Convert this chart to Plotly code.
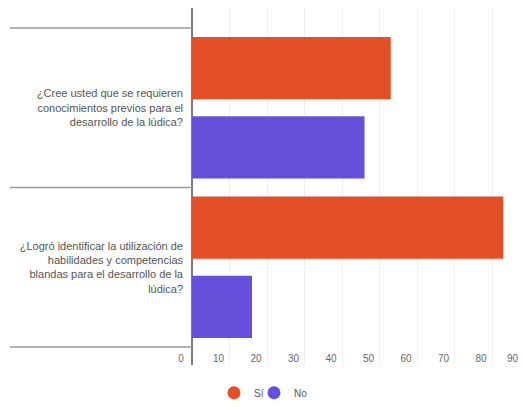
import plotly.graph_objects as go

categories = [
    "¿Cree usted que se requieren<br>conocimientos previos para el<br>desarrollo de la lúdica?",
    "¿Logró identificar la utilización de<br>habilidades y competencias<br>blandas para el desarrollo de la<br>lúdica?",
]
series_names = ["Sí", "No"]
si_values = [53, 83]
no_values = [46, 16]
x_ticks = [0, 10, 20, 30, 40, 50, 60, 70, 80, 90]

ORANGE = "#E34F26"
PURPLE = "#6650DB"
colors = [ORANGE, PURPLE]
legend_ids = ["legend", "legend2"]

fig = go.Figure()
for name, vals, col in zip(series_names, [si_values, no_values], colors):
    fig.add_trace(go.Bar(
        y=list(range(len(categories))), x=vals, orientation="h", name=name,
        marker=dict(color=col, line=dict(width=0)), showlegend=False,
    ))
for name, col, lg in zip(series_names, colors, legend_ids):
    fig.add_trace(go.Scatter(
        x=[None], y=[None], mode="markers", name=name, legend=lg,
        marker=dict(color=col, size=13, symbol="circle"),
    ))

xmax = 88.0
leg_common = dict(orientation="h", xref="container", yref="container",
                  y=0.035, xanchor="left", yanchor="middle",
                  font=dict(size=10, color="#555"), itemwidth=30,
                  bgcolor="rgba(0,0,0,0)")
fig.update_layout(
    width=522, height=407,
    margin=dict(l=192, r=0, t=8, b=42),
    plot_bgcolor="white", paper_bgcolor="white",
    font=dict(family="Liberation Sans, Arial", size=10, color="#555"),
    barmode="group", bargap=0.006, bargroupgap=0.214,
    legend=dict(x=214 / 522, **leg_common),
    legend2=dict(x=254 / 522, **leg_common),
    xaxis=dict(range=[0, xmax], tickvals=x_ticks, ticktext=[str(t) for t in x_ticks],
               showgrid=True, gridcolor="#efefef", gridwidth=1,
               zeroline=True, zerolinecolor="#7a7a7a", zerolinewidth=2,
               showline=False, ticks="", ticklabelshift=-11, ticklabelstandoff=-14,
               tickfont=dict(size=10, color="#666"), fixedrange=True),
    yaxis=dict(tickvals=list(range(len(categories))), ticktext=categories,
               range=[1.6125, -0.625], showgrid=False, zeroline=False,
               showline=False, ticks="", ticklabelstandoff=8,
               tickfont=dict(size=11, color="#555")),
)

# category boundary separators extending left of the axis
for b in [-0.5, 0.5, 1.5]:
    fig.add_shape(type="line", xref="paper", yref="y", x0=-0.552, x1=0,
                  y0=b, y1=b, line=dict(color="#999", width=1.5), layer="above")

# last tick lies beyond the visible range: keep its label inside the frame
for t in x_ticks:
    if t > xmax:
        fig.add_annotation(x=1, y=0, xref="paper", yref="paper", text=str(t),
                           showarrow=False, xanchor="right", yanchor="middle",
                           xshift=-1, yshift=7,
                           font=dict(size=10, color="#666"))

fig.write_html("out.html")
